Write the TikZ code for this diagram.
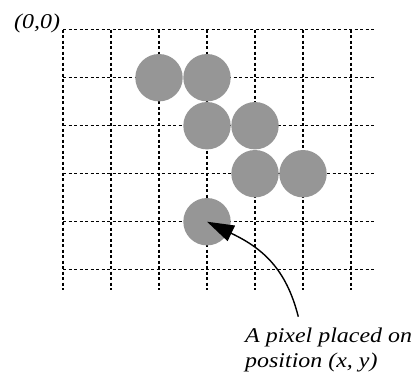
\documentclass[tikz,border=0pt]{standalone}
\usepackage{fontspec}
\setmainfont{Liberation Serif}[FakeStretch=1.14]
\usetikzlibrary{arrows.meta}
\definecolor{pixgray}{RGB}{150,150,150}
\begin{document}
\begin{tikzpicture}[x=1pt,y=-1pt,
  gridline/.style={dash pattern=on 3pt off 2.5pt, line width=1.05pt},
  pix/.style={circle, fill=pixgray, draw=none, inner sep=0pt, minimum size=47.4pt},
  lbl/.style={font=\fontsize{21}{25.5}\selectfont\itshape, inner sep=0pt},
  pointer/.style={line width=1.4pt, -{Triangle[length=27pt,width=17pt]}}]
\useasboundingbox (0,0) rectangle (417,376);
\foreach \i in {0,...,6} \draw[gridline] ({63+48*\i},29.7) -- ({63+48*\i},290);
\foreach \j in {0,...,5} \draw[gridline] (63,{29.7+48*\j}) -- (375,{29.7+48*\j});
\node[pix] (p1) at (159,77.7) {};
\node[pix] (p2) at (207,77.7) {};
\node[pix] (p3) at (207,125.7) {};
\node[pix] (p4) at (255,125.7) {};
\node[pix] (p5) at (255,173.7) {};
\node[pix] (p6) at (303,173.7) {};
\node[pix] (p7) at (207,221.7) {};
\node[lbl, anchor=base west] (origin) at (14,28.3) {(0,0)};
\node[lbl, anchor=north west, align=left] (note) at (245,327.5) {A pixel placed on\\position (x, y)};
\coordinate (tail) at (298.3,316.7);
\draw[pointer] (tail) .. controls (286,268) and (262,248) .. (p7.center);
\end{tikzpicture}
\end{document}
